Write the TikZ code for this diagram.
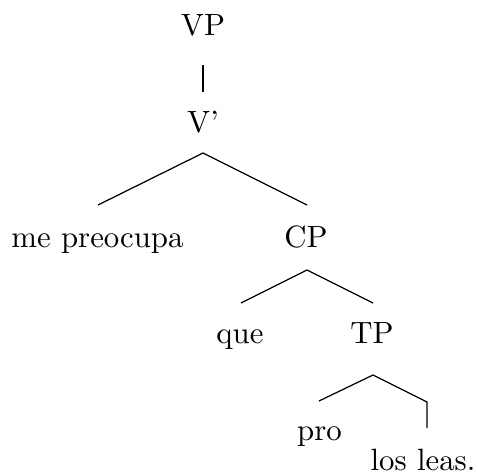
\documentclass[tikz,border=0pt]{standalone}
\usetikzlibrary{calc}
\begin{document}
\begin{tikzpicture}[x=0.3247pt,y=-0.3247pt,
  lab/.style={anchor=base,inner sep=0pt},
  branch/.style={line width=0.4pt}]
\useasboundingbox (0,0) rectangle (478,472);
\node[lab] (VP) at (203,35) {VP};
\node[lab] (Vb) at (203,132) {V'};
\node[lab] (me) at (97.5,247) {me preocupa};
\node[lab] (CP) at (306,247) {CP};
\node[lab] (que) at (240,343) {que};
\node[lab] (TP) at (372,343) {TP};
\node[lab] (pro) at (319.5,440) {pro};
\node[lab] (los) at (423,470) {los leas.};
\draw[branch] ($(VP.base)+(0,30)$) -- ($(Vb.base)+(0,-40)$);
\draw[branch] ($(me.base)+(0.5,-42)$) -- ($(Vb.base)+(0,21)$) -- ($(CP.base)+(1,-42)$);
\draw[branch] ($(que.base)+(1,-40)$) -- ($(CP.base)+(1,23)$) -- ($(TP.base)+(1,-40)$);
\draw[branch] ($(pro.base)+(-0.5,-39)$) -- ($(TP.base)+(1,32)$) -- ($(los.base)+(4,-68)$) -- ($(los.base)+(4,-42)$);
\end{tikzpicture}
\end{document}
